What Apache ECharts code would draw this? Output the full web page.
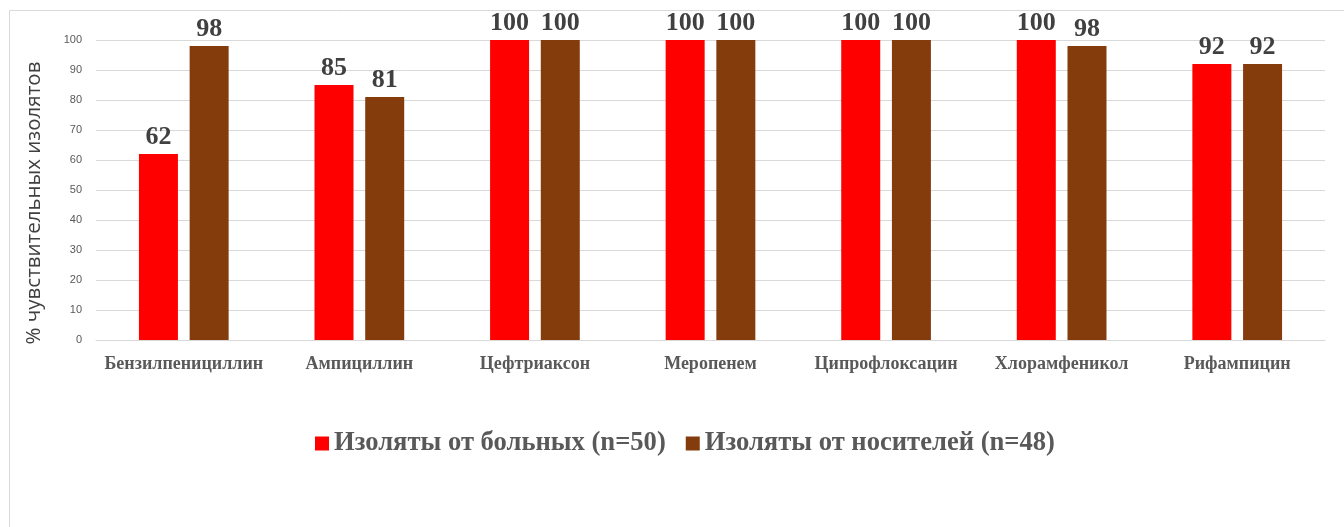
<!DOCTYPE html>
<html><head><meta charset="utf-8">
<script src="https://cdn.jsdelivr.net/npm/echarts@6/dist/echarts.min.js"></script>
<style>html,body{margin:0;padding:0;background:#fff}#c{width:1344px;height:527px}</style>
</head><body><div id="c"></div>
<script>
const categories = ['Бензилпенициллин','Ампициллин','Цефтриаксон','Меропенем','Ципрофлоксацин','Хлорамфеникол','Рифампицин'];
const patients = [62, 85, 100, 100, 100, 100, 92];
const carriers = [98, 81, 100, 100, 100, 98, 92];
const seriesNames = ['Изоляты от больных (n=50)', 'Изоляты от носителей (n=48)'];
const yTicks = {min: 0, max: 100, interval: 10};
const yName = '% чувствительных изолятов';

const chart = echarts.init(document.getElementById('c'), null, {renderer: 'canvas'});
const labelStyle = {show: true, position: 'top', distance: 4, fontFamily: 'Liberation Serif', fontWeight: 'bold', fontSize: 26, color: '#404040'};
chart.setOption({
  animation: false,
  graphic: [
    {type: 'rect', shape: {x: 9.5, y: 10.5, width: 1340, height: 530}, style: {fill: 'none', stroke: '#d9d9d9', lineWidth: 1}},
    {type: 'text', x: 34, y: 203, rotation: Math.PI / 2, style: {text: yName, align: 'center', verticalAlign: 'middle', fontFamily: 'Open Sans', fontSize: 20.5, fill: '#404040'}}
  ],
  grid: {left: 96, right: 19, top: 40, bottom: 187, containLabel: false},
  legend: {
    data: seriesNames, top: 425, left: 310, itemWidth: 14, itemHeight: 14, itemGap: 20,
    icon: 'rect',
    textStyle: {fontFamily: 'Liberation Serif', fontWeight: 'bold', fontSize: 26.6, color: '#595959'}
  },
  xAxis: {
    type: 'category', data: categories,
    axisLine: {lineStyle: {color: '#d9d9d9'}}, axisTick: {show: false},
    axisLabel: {interval: 0, margin: 15, fontFamily: 'Liberation Serif', fontWeight: 'bold', fontSize: 18, color: '#595959'}
  },
  yAxis: {
    type: 'value', min: yTicks.min, max: yTicks.max, interval: yTicks.interval,
    axisLine: {show: false}, axisTick: {show: false},
    splitLine: {lineStyle: {color: '#d9d9d9'}},
    axisLabel: {margin: 14, fontFamily: 'Liberation Sans', fontSize: 11, color: '#595959'}
  },
  series: [
    {name: seriesNames[0], type: 'bar', data: patients, barWidth: 39, barGap: '30%', itemStyle: {color: '#ff0000'}, label: labelStyle},
    {name: seriesNames[1], type: 'bar', data: carriers, barWidth: 39, barGap: '30%', itemStyle: {color: '#843c0c'}, label: labelStyle}
  ]
});
</script></body></html>
